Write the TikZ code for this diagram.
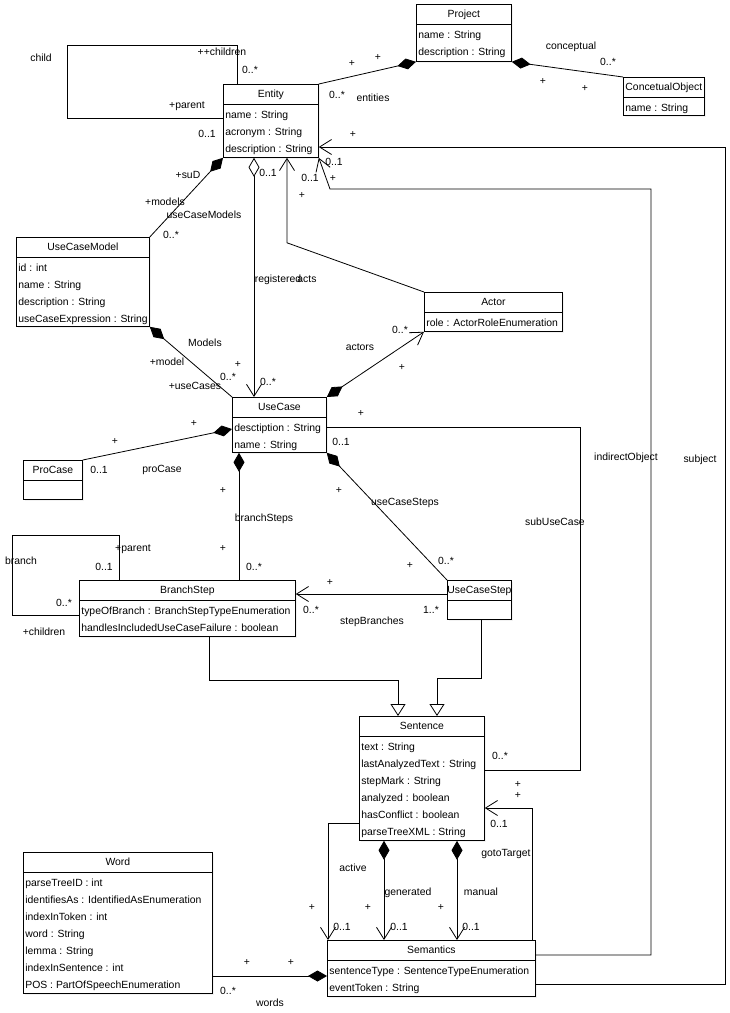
\documentclass[tikz,border=0pt]{standalone}
\usepackage{fontspec}
\setmainfont{Liberation Sans}
\usetikzlibrary{arrows.meta,calc,shadows}

\newcommand{\umlfont}{\fontsize{10.4}{12}\selectfont}
\tikzset{
  ucomp/.tip={Diamond[length=19pt,width=11pt]},
  uagg/.tip={Diamond[open,length=19pt,width=11pt]},
  unav/.tip={Straight Barb[length=12pt,width=15pt]},
  ugen/.tip={Triangle[open,length=12pt,width=15pt]},
  clsbox/.style={draw,fill=white,inner sep=0pt,anchor=north west,
    drop shadow={shadow xshift=2pt,shadow yshift=-2pt,fill=black!10}},
  umltext/.style={font=\umlfont,inner sep=0pt,text height=8pt,text depth=0.6pt},
  clstitle/.style={umltext},
  attr/.style={umltext,anchor=west},
  lbl/.style={umltext},
}

% class box: name, x, y, width, height, title
\newcommand{\umlclass}[6]{%
  \node[clsbox,minimum width=#4pt,minimum height=#5pt] (#1) at (#2,#3) {};
  \draw ($(#1.north west)+(0,20)$) -- ($(#1.north east)+(0,20)$);
  \node[clstitle] (#1-title) at ($(#1.north)+(0,10)$) {#6};
}
\newcommand{\umlattrs}[2]{%
  \foreach \attrtext [count=\k] in {#2}
    \node[attr] (#1-a\k) at ($(#1.north west)+(2,14+17*\k)$) {\attrtext};
}

\begin{document}
\begin{tikzpicture}[x=1pt,y=-1pt,line width=0.8pt]
  \useasboundingbox (0,0) rectangle (729,1013);

  % classes
  \umlclass{entity}{223}{84}{95}{73}{Entity}
  \umlattrs{entity}{name : String, acronym : String, description : String}
  \umlclass{project}{416}{4}{95}{57}{Project}
  \umlattrs{project}{name : String, description : String}
  \umlclass{concobj}{623}{77}{81}{38}{ConcetualObject}
  \umlattrs{concobj}{name : String}
  \umlclass{ucmodel}{16}{237}{133}{89}{UseCaseModel}
  \umlattrs{ucmodel}{id : int, name : String, description : String, useCaseExpression : String}
  \umlclass{usecase}{232}{397}{94}{55}{UseCase}
  \umlattrs{usecase}{desctiption : String, name : String}
  \umlclass{procase}{23}{460}{59}{39}{ProCase}
  \umlclass{actor}{424}{292}{138}{39}{Actor}
  \umlattrs{actor}{role : ActorRoleEnumeration}
  \umlclass{branchstep}{79}{580}{216}{56}{BranchStep}
  \umlattrs{branchstep}{typeOfBranch : BranchStepTypeEnumeration, handlesIncludedUseCaseFailure : boolean}
  \umlclass{ucstep}{447}{580}{64}{39}{UseCaseStep}
  \umlclass{sentence}{359}{716}{125}{124}{Sentence}
  \umlattrs{sentence}{text : String, lastAnalyzedText : String, stepMark : String, analyzed : boolean, hasConflict : boolean, parseTreeXML : String}
  \umlclass{semantics}{327}{940}{208}{56}{Semantics}
  \umlattrs{semantics}{sentenceType : SentenceTypeEnumeration, eventToken : String}
  \umlclass{word}{23}{852}{189}{141}{Word}
  \umlattrs{word}{parseTreeID : int, identifiesAs : IdentifiedAsEnumeration, indexInToken : int, word : String, lemma : String, indexInSentence : int, POS : PartOfSpeechEnumeration}

  % associations
  \draw ($(entity.north west)+(14,0)$) -- ++(0,-39) -| (67,118) -- ($(entity.north west)+(0,34)$);
  \draw[ucomp-] (project.south west) -- (entity.north east);
  \draw[ucomp-] (project.south east) -- (concobj.north west);
  \draw[ucomp-] (entity.south west) -- (ucmodel.north east);
  \draw[uagg-unav] ($(entity.south west)+(31,0)$) -- ($(usecase.north west)+(22,0)$);
  \draw[-unav] (actor.north west) -- ($(entity.south west)+(64,85)$) -- ($(entity.south west)+(64,0)$);
  \draw[-unav] ($(semantics.north east)+(0,15)$) -| (651,189) -- (330,189) -- (entity.south east);
  \draw[-unav] ($(semantics.north east)+(0,44)$) -| (725,147) -- ($(entity.north east)+(0,63)$);
  \draw[ucomp-unav] (usecase.north east) -- (actor.south west);
  \draw[ucomp-] (ucmodel.south east) -- (usecase.north west);
  \draw[ucomp-] ($(usecase.north west)+(0,32)$) -- (procase.north east);
  \draw[ucomp-] ($(usecase.south west)+(7,0)$) -- ($(branchstep.north west)+(160,0)$);
  \draw[ucomp-] (usecase.south east) -- (ucstep.north west);
  \draw[-unav] ($(ucstep.north west)+(0,14)$) -- ($(branchstep.north east)+(0,14)$);
  \draw ($(branchstep.north west)+(40,0)$) -- ++(0,-45) -| (12,615) -- ($(branchstep.north west)+(0,35)$);
  \draw ($(usecase.north east)+(0,30)$) -| (580,770) -- ($(sentence.north east)+(0,54)$);
  \draw[-unav] ($(sentence.north west)+(0,107)$) -| ($(semantics.north west)+(1,0)$);
  \draw[ucomp-unav] ($(sentence.south west)+(25,0)$) -- ($(semantics.north west)+(57,0)$);
  \draw[ucomp-unav] ($(sentence.south west)+(98,0)$) -- ($(semantics.north west)+(130,0)$);
  \draw[-unav] ($(semantics.north east)+(-3,0)$) |- ($(sentence.north east)+(0,92)$);
  \draw[ucomp-] ($(semantics.north west)+(0,36)$) -- ($(word.north east)+(0,124)$);

  % generalizations
  \draw[-ugen] ($(branchstep.south west)+(130,0)$) -- ++(0,44) -| ($(sentence.north west)+(39,0)$);
  \draw[-ugen] ($(ucstep.south west)+(34,0)$) -- ++(0,59) -| ($(sentence.north west)+(78,0)$);

  % role names and multiplicities
  \foreach \lx/\ly/\lt [count=\n] in {
    41/58/child, 222/52/++children, 250/70/0..*, 187/105/+parent, 207/134/0..1,
    352/63/+, 378/57/+, 337/95/0..*, 373/98/entities,
    571/46/conceptual, 608/62/0..*, 543/81/+, 585/88/+,
    188/175/+suD, 165/202/+models, 204/215/useCaseModels, 171/235/0..*,
    268/173/0..1, 278/279/registered, 307/279/acts, 268/382/0..*, 238/364/+,
    310/178/0..1, 302/195/+, 334/162/0..1, 333/178/+, 353/134/+,
    626/457/indirectObject, 700/459/subject,
    400/330/0..*, 360/347/actors, 402/367/+,
    205/343/Models, 167/362/+model, 228/377/0..*, 195/386/+useCases,
    194/423/+, 115/441/+, 99/470/0..1, 162/469/proCase,
    223/490/+, 264/518/branchSteps, 223/548/+, 254/567/0..*,
    341/442/0..1, 339/490/+, 405/502/useCaseSteps, 410/565/+, 446/561/0..*,
    330/582/+, 311/610/0..*, 431/610/1..*, 372/621/stepBranches,
    133/548/+parent, 21/561/branch, 104/567/0..1, 64/603/0..*, 44/632/+children,
    361/413/+, 555/522/subUseCase, 500/756/0..*,
    353/868/active, 312/907/+, 342/927/0..1,
    408/892/generated, 368/907/+, 399/927/0..1,
    481/892/manual, 441/907/+, 471/927/0..1,
    506/853/gotoTarget, 499/824/0..1, 518/784/+, 518/795/+,
    247/962/+, 291/962/+, 228/991/0..*, 270/1003/words}
    \node[lbl] (lab\n) at (\lx,\ly) {\lt};
\end{tikzpicture}
\end{document}
